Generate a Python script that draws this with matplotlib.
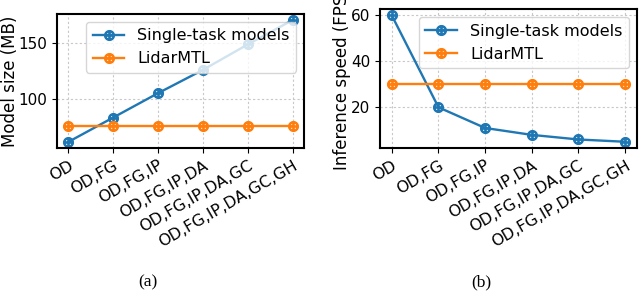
import matplotlib
matplotlib.use('Agg')
import matplotlib.pyplot as plt

tasks = ['OD', 'OD,FG', 'OD,FG,IP', 'OD,FG,IP,DA', 'OD,FG,IP,DA,GC', 'OD,FG,IP,DA,GC,GH']
size_single = [61, 83, 105, 126, 149, 171]
size_mtl = [75, 75, 75, 75, 75, 75]
fps_single = [60, 20, 11, 8, 6, 5]
fps_mtl = [30, 30, 30, 30, 30, 30]

plt.rcParams['font.size'] = 12

fig = plt.figure(figsize=(6.4, 2.95), dpi=100)
ax1 = fig.add_axes([0.089, 0.498, 0.386, 0.455])
ax2 = fig.add_axes([0.594, 0.498, 0.401, 0.471])

x = list(range(len(tasks)))
mk = dict(marker=r'$\oplus$', markersize=7, linewidth=1.7)

def draw(ax, single, mtl, ylabel):
    ax.plot(x, single, color='#1f77b4', label='Single-task models', **mk)
    ax.plot(x, mtl, color='#ff7f0e', label='LidarMTL', **mk)
    ax.set_ylabel(ylabel, fontsize=12)
    ax.set_xticks(x)
    ax.set_xticklabels(tasks, rotation=30, ha='right', rotation_mode='anchor')
    ax.grid(True, linestyle=(0, (2, 2)), color='#c8c8c8', linewidth=0.8)
    for s in ax.spines.values():
        s.set_linewidth(1.5)
    ax.tick_params(axis='x', labelsize=11.5)
    ax.tick_params(axis='y', labelsize=11)
    ax.legend(loc='upper right', fontsize=11.5)

draw(ax1, size_single, size_mtl, 'Model size (MB)')
draw(ax2, fps_single, fps_mtl, 'Inference speed (FPS)')
ax2.set_yticks([20, 40, 60])

# place y labels like the original (left one fits, right one runs off the top)
ax1.yaxis.set_label_coords(-0.155, 0.5)
ax2.yaxis.set_label_coords(-0.115, 0.5)

fig.text(0.231, 0.03, '(a)', family='Liberation Serif', fontsize=12.5, ha='center')
fig.text(0.752, 0.03, '(b)', family='Liberation Serif', fontsize=12.5, ha='center')

fig.savefig('out.png', dpi=100)
